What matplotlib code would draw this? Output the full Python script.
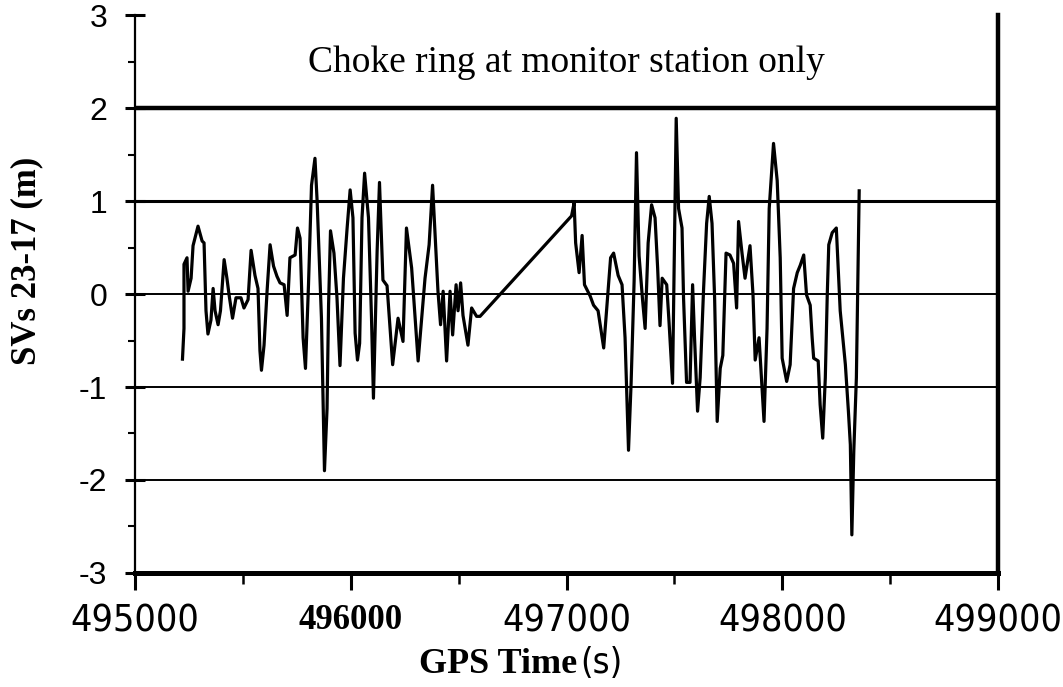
import numpy as np
import matplotlib
matplotlib.use("Agg")
import matplotlib.pyplot as plt
from matplotlib import font_manager
from matplotlib.ticker import MultipleLocator

# SV 23 - SV 17 differential residual, choke ring antenna at monitor station only
gps_time = [
    495220, 495227, 495227, 495241, 495246, 495260, 495269, 495292, 495311, 495320,
    495329, 495338, 495352, 495362, 495371, 495385, 495396, 495413, 495426, 495436,
    495452, 495468, 495491, 495505, 495524, 495538, 495556, 495570, 495579, 495586,
    495598, 495612, 495626, 495642, 495658, 495672, 495691, 495705, 495718, 495742,
    495753, 495765, 495779, 495790, 495804, 495818, 495834, 495844, 495864, 495878,
    495890, 495897, 495906, 495922, 495936, 495950, 495966, 495983, 495997, 496010,
    496020, 496031, 496041, 496052, 496064, 496082, 496096, 496105, 496122, 496133,
    496149, 496168, 496194, 496219, 496242, 496258, 496282, 496312, 496344, 496363,
    496379, 496404, 496416, 496428, 496444, 496460, 496472, 496488, 496497, 496509,
    496520, 496543, 496560, 496583, 496599,
    497023, 497035, 497042, 497058, 497072, 497083, 497109, 497125, 497146, 497172,
    497190, 497204, 497218, 497239, 497257, 497271, 497287, 497299, 497313, 497324,
    497336, 497352, 497364, 497378, 497394, 497410, 497422, 497433, 497443, 497464,
    497475, 497491, 497508, 497519, 497535, 497542, 497556, 497572, 497584, 497593,
    497607, 497619, 497635, 497649, 497661, 497674, 497686, 497698, 497712, 497724,
    497739, 497757, 497774, 497788, 497797, 497813, 497827, 497850, 497864, 497874,
    497892, 497915, 497929, 497939, 497959, 497976, 497990, 497999, 498020, 498036,
    498052, 498069, 498083, 498099, 498112, 498129, 498138, 498145, 498166, 498175,
    498187, 498199, 498208, 498215, 498231, 498250, 498261, 498268, 498292, 498306,
    498315, 498322, 498331, 498343, 498356,
]
sv_diff = [
    -0.70, -0.37, 0.32, 0.39, 0.03, 0.17, 0.52, 0.73, 0.57, 0.55,
    -0.18, -0.43, -0.28, 0.06, -0.18, -0.33, -0.18, 0.37, 0.17, -0.01,
    -0.26, -0.04, -0.04, -0.15, -0.06, 0.47, 0.20, 0.06, -0.61, -0.82,
    -0.55, 0.03, 0.53, 0.30, 0.19, 0.12, 0.10, -0.23, 0.39, 0.42,
    0.71, 0.60, -0.47, -0.80, 0.10, 1.17, 1.46, 1.00, -0.26, -1.90,
    -1.23, -0.12, 0.68, 0.44, -0.04, -0.77, 0.17, 0.71, 1.12, 0.82,
    -0.42, -0.71, -0.53, 0.82, 1.30, 0.82, -0.26, -1.12, 0.46, 1.20,
    0.15, 0.09, -0.76, -0.26, -0.51, 0.71, 0.28, -0.72, 0.17, 0.53,
    1.17, 0.03, -0.33, 0.03, -0.72, 0.03, -0.44, 0.10, -0.18, 0.12,
    -0.23, -0.55, -0.15, -0.24, -0.24,
    0.84, 0.98, 0.55, 0.23, 0.63, 0.10, -0.02, -0.12, -0.18, -0.58,
    -0.04, 0.39, 0.44, 0.20, 0.10, -0.47, -1.68, -0.96, 0.14, 1.52,
    0.41, -0.06, -0.37, 0.55, 0.96, 0.82, 0.28, -0.34, 0.17, 0.10,
    -0.31, -0.96, 1.89, 0.92, 0.71, -0.04, -0.95, -0.95, 0.10, -0.47,
    -1.26, -0.90, 0.06, 0.76, 1.05, 0.76, -0.04, -1.37, -0.80, -0.66,
    0.44, 0.42, 0.33, -0.15, 0.78, 0.44, 0.17, 0.52, -0.01, -0.71,
    -0.47, -1.37, -0.37, 0.92, 1.62, 1.22, 0.39, -0.69, -0.94, -0.76,
    0.06, 0.23, 0.31, 0.42, -0.01, -0.12, -0.47, -0.69, -0.72, -1.19,
    -1.55, -0.90, -0.01, 0.53, 0.66, 0.71, 0.17, -0.18, -0.76, -1.26,
    -1.62, -2.59, -1.69, -0.90, 1.11,
]

x_ticks = [495000, 496000, 497000, 498000, 499000]
y_ticks = [-3, -2, -1, 0, 1, 2, 3]

# narrow sans for the numbers if a condensed face is around, else plain Liberation Sans
cond = font_manager.FontProperties(family='DejaVu Sans', stretch='condensed')
if 'Condensed' in font_manager.findfont(cond, fallback_to_default=True):
    narrow = dict(family='DejaVu Sans', stretch='condensed', fontsize=27)
else:
    narrow = dict(family='Liberation Sans', fontsize=26)

fig = plt.figure(figsize=(10.63, 6.87), dpi=100)
ax = fig.add_axes([0.127, 0.166, 0.812, 0.812])

# horizontal rules (heavier ones frame the caption strip)
for yv, lw in [(2, 3.2), (1, 2.2), (0, 1.4), (-1, 1.4), (-2, 1.4)]:
    ax.axhline(yv, color='black', lw=lw, zorder=1)

ax.plot(gps_time, sv_diff, color='black', lw=2.3, zorder=3)

ax.set_xlim(495000, 499000)
ax.set_ylim(-3, 3)
ax.set_xticks(x_ticks)
ax.set_yticks(y_ticks)
ax.xaxis.set_minor_locator(MultipleLocator(500))
ax.yaxis.set_minor_locator(MultipleLocator(0.5))

ax.spines['top'].set_visible(False)
ax.spines['left'].set_linewidth(1.6)
ax.spines['right'].set_linewidth(3.2)
ax.spines['bottom'].set_linewidth(3.6)

ax.tick_params(axis='y', which='major', direction='inout', length=14, width=2.2, pad=13)
ax.tick_params(axis='y', which='minor', direction='out', length=5, width=1.5)
ax.tick_params(axis='x', which='major', direction='out', length=12, width=2.2, pad=10)
ax.tick_params(axis='x', which='minor', direction='out', length=8, width=1.8)

ax.set_yticklabels([str(v) for v in y_ticks], family='Liberation Sans', fontsize=23)
ax.set_xticklabels([str(v) for v in x_ticks], **narrow)
for lab in ax.get_xticklabels():
    if lab.get_text() == '496000':
        lab.set_family('Liberation Serif')
        lab.set_fontweight('bold')
        lab.set_fontsize(25)

ax.set_ylabel('SVs 23-17 (m)', family='Liberation Serif', fontweight='bold', fontsize=25)
ax.yaxis.set_label_coords(-0.106, 0.56)

# x label mixes a bold serif name with a narrow sans unit
fig.text(0.543, 0.02, 'GPS Time', family='Liberation Serif', fontweight='bold',
         fontsize=26, ha='right', va='baseline')
unit = dict(narrow)
unit['fontsize'] = narrow['fontsize'] - 1
fig.text(0.546, 0.02, '(s)', ha='left', va='baseline', **unit)

ax.text(0.5, 0.914, 'Choke ring at monitor station only', transform=ax.transAxes,
        family='Liberation Serif', fontsize=27, ha='center', va='center')

fig.savefig('out.png', dpi=100)
